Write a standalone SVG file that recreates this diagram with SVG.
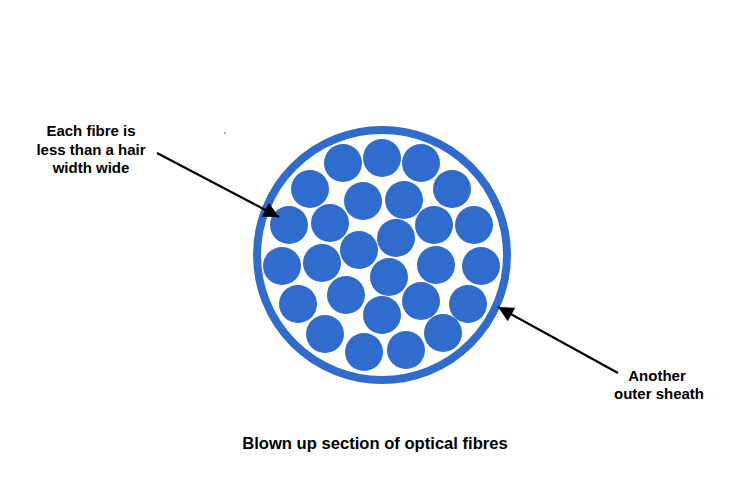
<svg xmlns="http://www.w3.org/2000/svg" width="750" height="500" viewBox="0 0 750 500">
<defs>
<style>
.fibre{fill:#2f6ccd}
.sheath{fill:none;stroke:#2f6ccd;stroke-width:8}
.lbl{font-family:"Liberation Sans",Arial,sans-serif;font-weight:bold;font-size:15px;fill:#000;text-anchor:middle}
.ttl{font-size:16.6px}
.arrow{stroke:#000;stroke-width:2.2;fill:none;marker-end:url(#ah)}
</style>
<marker id="ah" viewBox="0 0 10 10" refX="10" refY="5" markerWidth="9" markerHeight="7" markerUnits="strokeWidth" orient="auto">
<path d="M0,0 L10,5 L0,10 z" fill="#000"/>
</marker>
</defs>
<rect width="750" height="500" fill="#fff"/>
<g id="bundle">
<circle class="sheath" cx="382" cy="255" r="125"/>
<g id="fibres">
<circle class="fibre" cx="343" cy="163" r="19"/>
<circle class="fibre" cx="382" cy="158" r="19"/>
<circle class="fibre" cx="421" cy="163" r="19"/>
<circle class="fibre" cx="310" cy="189" r="19"/>
<circle class="fibre" cx="452" cy="189" r="19"/>
<circle class="fibre" cx="363" cy="201" r="19"/>
<circle class="fibre" cx="404" cy="200" r="19"/>
<circle class="fibre" cx="289" cy="225" r="19"/>
<circle class="fibre" cx="330" cy="223" r="19"/>
<circle class="fibre" cx="434" cy="225" r="19"/>
<circle class="fibre" cx="474" cy="225" r="19"/>
<circle class="fibre" cx="396" cy="238" r="19"/>
<circle class="fibre" cx="359" cy="250" r="19"/>
<circle class="fibre" cx="282" cy="266" r="19"/>
<circle class="fibre" cx="322" cy="263" r="19"/>
<circle class="fibre" cx="436" cy="265" r="19"/>
<circle class="fibre" cx="481" cy="266" r="19"/>
<circle class="fibre" cx="389" cy="277" r="19"/>
<circle class="fibre" cx="298" cy="304" r="19"/>
<circle class="fibre" cx="346" cy="295" r="19"/>
<circle class="fibre" cx="421" cy="301" r="19"/>
<circle class="fibre" cx="468" cy="304" r="19"/>
<circle class="fibre" cx="382" cy="315" r="19"/>
<circle class="fibre" cx="325" cy="334" r="19"/>
<circle class="fibre" cx="443" cy="333" r="19"/>
<circle class="fibre" cx="364" cy="352" r="19"/>
<circle class="fibre" cx="406" cy="350" r="19"/>
</g>
</g>
<g id="connectors">
<line class="arrow" x1="157" y1="153" x2="279" y2="217"/>
<line class="arrow" x1="618" y1="373" x2="498" y2="307"/>
</g>
<g id="label-fibre">
<text class="lbl" x="91" y="136">Each fibre is</text>
<text class="lbl" x="91" y="155">less than a hair</text>
<text class="lbl" x="91" y="173">width wide</text>
</g>
<g id="label-sheath">
<text class="lbl" x="657" y="381">Another</text>
<text class="lbl" x="659" y="399">outer sheath</text>
</g>
<g id="title">
<text class="lbl ttl" x="375" y="449">Blown up section of optical fibres</text>
</g>
<circle cx="225" cy="133" r="0.8" fill="#444"/>
</svg>
